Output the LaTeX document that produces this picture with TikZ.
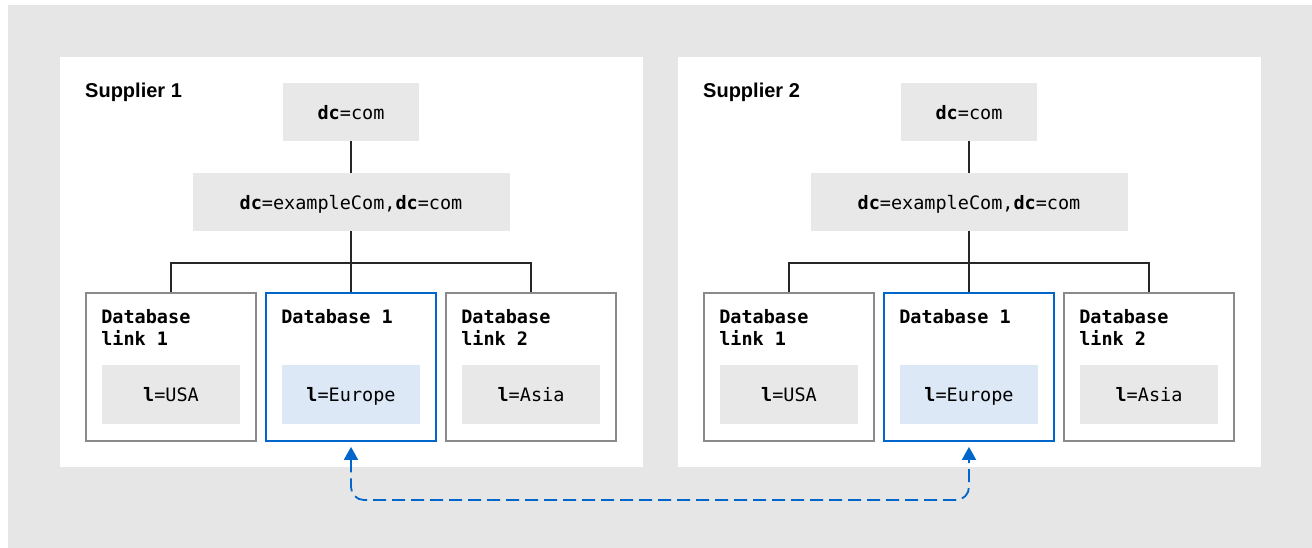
\documentclass[tikz,border=0pt]{standalone}
\usepackage{fontspec}
\setmainfont{Liberation Sans}
\setmonofont{DejaVu Sans Mono}
\usetikzlibrary{arrows.meta,positioning}
\definecolor{backgray}{HTML}{E6E6E6}
\definecolor{keygray}{HTML}{E8E8E8}
\definecolor{rhblue}{HTML}{0066CC}
\definecolor{paleblue}{HTML}{DCE8F6}
\definecolor{edgegray}{HTML}{8A8A8A}
\newcommand{\attr}[2]{\textbf{#1}=#2}

\begin{document}
\begin{tikzpicture}[x=1pt,y=-1pt,>={Triangle[length=13pt,width=14pt]},
    panel/.style={fill=white,minimum width=583pt,minimum height=410pt,inner sep=0pt},
    suptitle/.style={anchor=base west,inner sep=0pt,font=\bfseries\fontsize{20}{22}\selectfont},
    keybox/.style={fill=keygray,minimum height=58pt,inner sep=0pt,text height=19pt,text depth=4pt,
      font=\ttfamily\fontsize{18.5}{20}\selectfont},
    dbbox/.style={draw=edgegray,line width=1.8pt,fill=white,minimum width=170pt,minimum height=148pt,inner sep=0pt},
    dbtitle/.style={anchor=north west,align=left,inner sep=0pt,font=\ttfamily\bfseries\fontsize{18.5}{22}\selectfont},
    valbox/.style={keybox,minimum width=138pt,minimum height=59pt},
    tree/.style={line width=1.6pt,black!85},
    repl/.style={<->,rhblue,line width=1.8pt,dash pattern=on 13pt off 6pt,rounded corners=13pt,
      shorten <=5pt,shorten >=5pt}]
  \useasboundingbox (0,0) rectangle (1312,548);
  \fill[backgray] (8,5) rectangle (1312,548);
  \foreach \i/\dx in {1/0,2/618}{
    \node[panel] (sup\i) at (\dx+351.5,262) {};
    \node[suptitle] (name\i) at (\dx+85,98) {Supplier \i};
    \node[keybox,minimum width=136pt] (dc\i) at (\dx+351,112) {\attr{dc}{com}};
    \node[keybox,minimum width=317pt] (ex\i) at (\dx+351,202) {\attr{dc}{exampleCom},\attr{dc}{com}};
    \node[dbbox] (lk\i) at (\dx+171,367) {};
    \node[dbbox,draw=rhblue] (db\i) at (\dx+351,367) {};
    \node[dbbox] (lkb\i) at (\dx+531,367) {};
    \coordinate (hub\i) at (\dx+351,263);
    % titles and values inside the boxes
    \node[dbtitle,below right=17pt and 16pt of lk\i.north west] (tlk\i) {Database\\link 1};
    \node[dbtitle,below right=17pt and 16pt of db\i.north west] (tdb\i) {Database 1};
    \node[dbtitle,below right=17pt and 16pt of lkb\i.north west] (tlkb\i) {Database\\link 2};
    \node[valbox,above=18pt of lk\i.south] (usa\i) {\attr{l}{USA}};
    \node[valbox,fill=paleblue,above=18pt of db\i.south] (eu\i) {\attr{l}{Europe}};
    \node[valbox,above=18pt of lkb\i.south] (asia\i) {\attr{l}{Asia}};
    % tree lines
    \draw[tree] (dc\i) -- (ex\i);
    \draw[tree] (ex\i) -- (db\i);
    \draw[tree] (lk\i.north) |- (hub\i) -| (lkb\i.north);
  }
  \coordinate (low) at (660,500);
  \draw[repl] (db1.south) |- (low) -| (db2.south);
\end{tikzpicture}
\end{document}
